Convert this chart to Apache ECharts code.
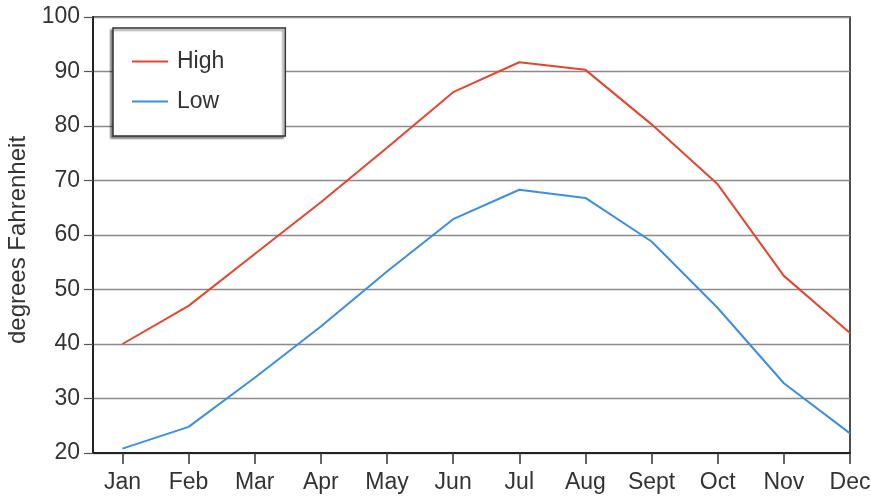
<!DOCTYPE html>
<html>
<head>
<meta charset="utf-8">
<script src="https://cdn.jsdelivr.net/npm/echarts@6/dist/echarts.min.js"></script>
<style>
html,body{margin:0;padding:0;background:#ffffff;}
#c{width:871px;height:502px;}
</style>
</head>
<body>
<div id="c"></div>
<script>
const months = ['Jan','Feb','Mar','Apr','May','Jun','Jul','Aug','Sept','Oct','Nov','Dec'];
const highTemps = [40, 47, 56.5, 66, 76, 86.2, 91.7, 90.3, 80.3, 69.3, 52.5, 42];
const lowTemps = [20.8, 24.8, 33.8, 43.2, 53.3, 62.9, 68.3, 66.8, 58.8, 46.6, 32.8, 23.6];
const yTicks = [20, 30, 40, 50, 60, 70, 80, 90, 100];

const monthIdx = months.map((m, i) => i);
const FONT = '"Liberation Sans", Arial, sans-serif';

const chart = echarts.init(document.getElementById('c'), null, {renderer: 'canvas'});
chart.setOption({
  backgroundColor: '#ffffff',
  animation: false,
  grid: {
    left: 93, right: 21, top: 17, bottom: 49,
    containLabel: false,
    outerBoundsMode: 'none',
    show: true, borderColor: '#222', borderWidth: 1.6, backgroundColor: 'transparent'
  },
  legend: {
    orient: 'vertical',
    left: 113, top: 28,
    padding: [22, 61, 23, 19],
    itemGap: 17,
    itemWidth: 36, itemHeight: 2,
    icon: 'rect',
    borderColor: '#333', borderWidth: 1.5,
    backgroundColor: '#ffffff',
    shadowColor: 'rgba(0,0,0,0.45)', shadowBlur: 2, shadowOffsetX: -2, shadowOffsetY: 2,
    textStyle: {fontFamily: FONT, fontSize: 23, color: '#333', lineHeight: 23, padding: [0,0,0,4]},
    data: ['High', 'Low']
  },
  xAxis: {
    type: 'value',
    min: -0.445, max: 11,
    splitLine: {show: false},
    axisLine: {show: true, onZero: false, lineStyle: {color: '#222', width: 2}},
    axisTick: {show: true, customValues: monthIdx, length: 11, lineStyle: {color: '#333', width: 1.5}},
    axisLabel: {
      customValues: monthIdx,
      formatter: v => months[Math.round(v)],
      fontFamily: FONT, fontSize: 23, color: '#333', margin: 18
    }
  },
  yAxis: {
    type: 'value',
    min: 20, max: 100, interval: 10,
    name: 'degrees Fahrenheit',
    nameLocation: 'middle',
    nameGap: 61,
    nameTextStyle: {fontFamily: FONT, fontSize: 24, color: '#333', padding: [0, 10, 0, 0]},
    axisLine: {show: true, onZero: false, lineStyle: {color: '#222', width: 2}},
    axisTick: {show: true, length: 9, lineStyle: {color: '#555', width: 1.2}},
    axisLabel: {
      customValues: yTicks,
      fontFamily: FONT, fontSize: 23, color: '#333', margin: 13
    },
    splitLine: {show: true, lineStyle: {color: '#8a8a8a', width: 1.3}}
  },
  series: [
    {
      name: 'High', type: 'line',
      data: highTemps.map((v, i) => [i, v]),
      showSymbol: false, symbol: 'none',
      lineStyle: {color: '#e5452f', width: 2},
      itemStyle: {color: '#e5452f'}
    },
    {
      name: 'Low', type: 'line',
      data: lowTemps.map((v, i) => [i, v]),
      showSymbol: false, symbol: 'none',
      lineStyle: {color: '#3b8fe0', width: 2},
      itemStyle: {color: '#3b8fe0'}
    }
  ]
});
</script>
</body>
</html>
